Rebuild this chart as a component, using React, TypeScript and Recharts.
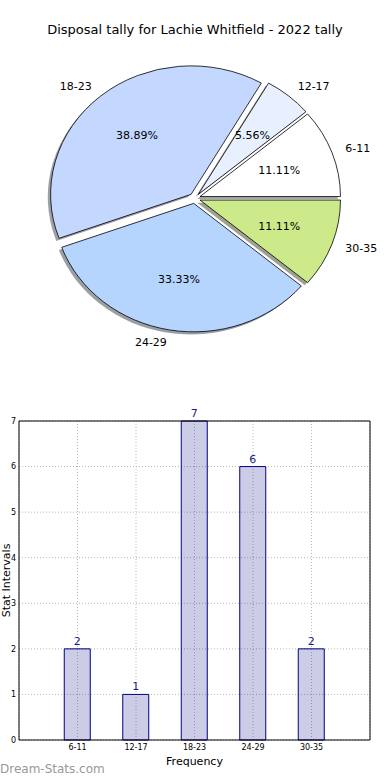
import React from 'react';
import { PieChart, Pie, Cell, BarChart, Bar, XAxis, YAxis, CartesianGrid, LabelList } from 'recharts';

const titleText = 'Disposal tally for Lachie Whitfield - 2022 tally';
const categories = ['6-11', '12-17', '18-23', '24-29', '30-35'];
const counts = [2, 1, 7, 6, 2];
const sliceColors = ['#ffffff', '#e8f0ff', '#c4d8ff', '#b5d5ff', '#cdea8a'];
const yTicks = [0, 1, 2, 3, 4, 5, 6, 7];
const xAxisTitle = 'Frequency';
const yAxisTitle = 'Stat Intervals';
const watermark = 'Dream-Stats.com';

const pieData = categories.map((name, i) => ({ name, value: counts[i] }));
const barData = categories.map((name, i) => ({ name, value: counts[i] }));

const FONT = '"DejaVu Sans", Verdana, sans-serif';
const RX = 140.5;
const RY = 128.5;
const EXPLODE = 0.04;
const RAD = Math.PI / 180;

function shade(hex: string, f: number) {
  const h = hex.replace('#', '');
  const r = Math.round(parseInt(h.slice(0, 2), 16) * f);
  const g = Math.round(parseInt(h.slice(2, 4), 16) * f);
  const b = Math.round(parseInt(h.slice(4, 6), 16) * f);
  return `rgb(${r},${g},${b})`;
}

function wedgePath(cx: number, cy: number, rx: number, ry: number, start: number, end: number, ox: number, oy: number) {
  const mid = (start + end) / 2;
  const ax = cx + EXPLODE * rx * Math.cos(mid * RAD) + ox;
  const ay = cy - EXPLODE * ry * Math.sin(mid * RAD) + oy;
  const x1 = ax + rx * Math.cos(start * RAD);
  const y1 = ay - ry * Math.sin(start * RAD);
  const x2 = ax + rx * Math.cos(end * RAD);
  const y2 = ay - ry * Math.sin(end * RAD);
  const large = Math.abs(end - start) > 180 ? 1 : 0;
  return `M${ax},${ay} L${x1},${y1} A${rx},${ry} 0 ${large} 0 ${x2},${y2} Z`;
}

const WedgeShape = (props: any) => {
  const { cx, cy, outerRadius, startAngle, endAngle, fill } = props;
  const rx = outerRadius;
  const ry = outerRadius * (RY / RX);
  return <path d={wedgePath(cx, cy, rx, ry, startAngle, endAngle, 0, 0)} fill={fill} stroke="#000" strokeWidth={0.8} strokeLinejoin="round" />;
};

const ShadowShape = (props: any) => {
  const { cx, cy, outerRadius, startAngle, endAngle, fill } = props;
  const rx = outerRadius;
  const ry = outerRadius * (RY / RX);
  return <path d={wedgePath(cx, cy, rx, ry, startAngle, endAngle, -0.02 * rx, 0.02 * ry)} fill={shade(fill, 0.3)} fillOpacity={0.5} stroke="none" />;
};

const renderPieLabel = (props: any) => {
  const { cx, cy, midAngle, outerRadius, percent, name } = props;
  const rx = outerRadius;
  const ry = outerRadius * (RY / RX);
  const c = Math.cos(midAngle * RAD);
  const s = Math.sin(midAngle * RAD);
  const lx = cx + (1.1 + EXPLODE) * rx * c;
  const ly = cy - (1.1 + EXPLODE) * ry * s;
  const px = cx + (0.6 + EXPLODE) * rx * c;
  const py = cy - (0.6 + EXPLODE) * ry * s;
  return (
    <g>
      <text x={lx} y={ly} textAnchor={c >= 0 ? 'start' : 'end'} dominantBaseline="central" fontSize={11} fontFamily={FONT} fill="#000">{name}</text>
      <text x={px} y={py} textAnchor="middle" dominantBaseline="central" fontSize={11} fontFamily={FONT} fill="#000">{`${(percent * 100).toFixed(2)}%`}</text>
    </g>
  );
};

const YLabel = (props: any) => {
  const vb = props.viewBox || {};
  const x = vb.x + vb.width - 9.5;
  const y = vb.y + vb.height / 2;
  return (
    <text x={x} y={y} transform={`rotate(-90 ${x} ${y})`} textAnchor="middle" fontSize={11} fontFamily={FONT} fill="#000">{yAxisTitle}</text>
  );
};

export default function App() {
  return (
    <div style={{ position: 'absolute', left: 0, top: 0, width: 390, height: 780, background: '#fff', fontFamily: FONT }}>
      <div style={{ position: 'absolute', left: 0, top: 0 }}>
        <BarChart width={390} height={780} data={barData} margin={{ top: 420, right: 19, bottom: 0, left: 18 }}>
          <CartesianGrid xAxisId="b" yAxisId="l" stroke="#b8b8b8" strokeDasharray="1 2" />
          <XAxis
            xAxisId="b"
            dataKey="name"
            height={40}
            interval={0}
            padding={{ left: 29.25, right: 29.25 }}
            tickLine={false}
            tickSize={3}
            tickMargin={1}
            axisLine={{ stroke: '#000', strokeWidth: 1 }}
            tick={{ fontSize: 8, fill: '#000', fontFamily: FONT }}
            label={{ value: xAxisTitle, position: 'insideBottom', offset: 15, fontSize: 11, fill: '#000', fontFamily: FONT }}
          />
          <XAxis
            xAxisId="t"
            dataKey="name"
            orientation="top"
            height={1}
            padding={{ left: 29.25, right: 29.25 }}
            tick={false}
            tickLine={false}
            axisLine={{ stroke: '#000', strokeWidth: 1 }}
          />
          <YAxis
            yAxisId="l"
            width={1}
            domain={[0, 7]}
            ticks={yTicks}
            interval={0}
            tickLine={false}
            tickSize={3}
            tickMargin={0}
            axisLine={{ stroke: '#000', strokeWidth: 1 }}
            tick={{ fontSize: 8, fill: '#000', fontFamily: FONT }}
            label={<YLabel />}
          />
          <YAxis
            yAxisId="r"
            orientation="right"
            width={1}
            domain={[0, 7]}
            tick={false}
            tickLine={false}
            axisLine={{ stroke: '#000', strokeWidth: 1 }}
          />
          <Bar xAxisId="b" yAxisId="l" dataKey="value" barSize={26} fill="#000080" fillOpacity={0.2} stroke="#000080" strokeWidth={1} isAnimationActive={false}>
            <LabelList dataKey="value" position="top" offset={4} fill="#1a1a8c" fontSize={11} fontFamily={FONT} />
          </Bar>
        </BarChart>
      </div>
      <div style={{ position: 'absolute', left: 0, top: 0 }}>
        <PieChart width={390} height={390} margin={{ top: 0, right: 0, bottom: 0, left: 0 }}>
          <Pie
            data={pieData}
            dataKey="value"
            nameKey="name"
            cx={194.7}
            cy={198.3}
            outerRadius={RX}
            startAngle={0}
            endAngle={360}
            isAnimationActive={false}
            shape={ShadowShape}
            labelLine={false}
            stroke="none"
          >
            {pieData.map((d, i) => (
              <Cell key={`s-${d.name}`} fill={sliceColors[i]} />
            ))}
          </Pie>
          <Pie
            data={pieData}
            dataKey="value"
            nameKey="name"
            cx={194.7}
            cy={198.3}
            outerRadius={RX}
            startAngle={0}
            endAngle={360}
            isAnimationActive={false}
            shape={WedgeShape}
            label={renderPieLabel}
            labelLine={false}
            stroke="#000"
          >
            {pieData.map((d, i) => (
              <Cell key={`w-${d.name}`} fill={sliceColors[i]} />
            ))}
          </Pie>
        </PieChart>
      </div>
      <div style={{ position: 'absolute', left: 0, top: 22, width: 390, textAlign: 'center', fontSize: 13, lineHeight: '16px', color: '#000', fontFamily: FONT }}>
        {titleText}
      </div>
      <div style={{ position: 'absolute', left: 0, top: 762, fontSize: 12, lineHeight: '15px', color: '#999999', fontFamily: FONT }}>
        {watermark}
      </div>
    </div>
  );
}
